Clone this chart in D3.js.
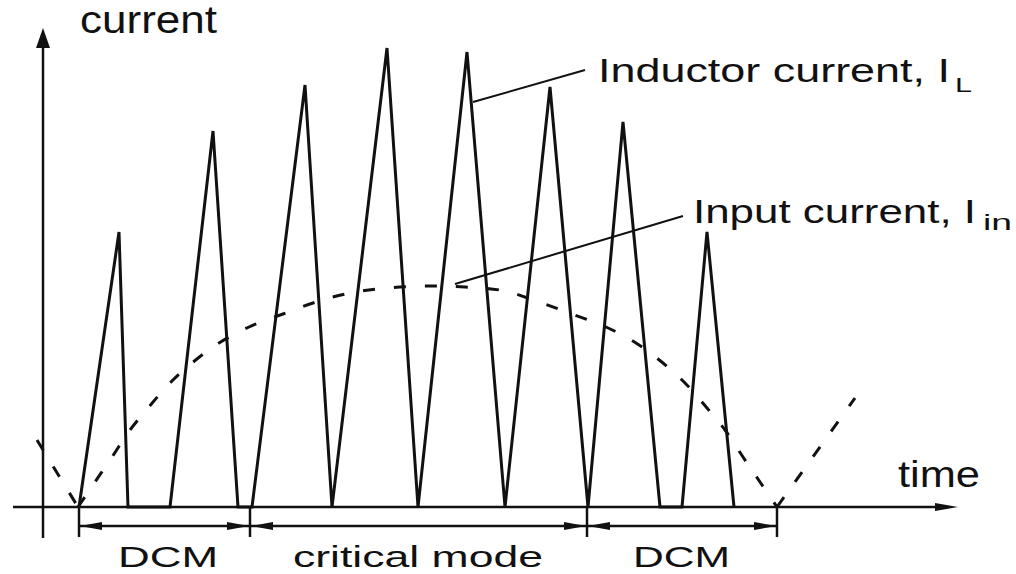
<!DOCTYPE html>
<html><head><meta charset="utf-8">
<script src="https://cdn.jsdelivr.net/npm/d3@7"></script>
<style>html,body{margin:0;padding:0;background:#fff;}svg{display:block;}text{font-family:"Liberation Sans",Arial,sans-serif;fill:#111;}</style>
</head><body>
<script>
// ---- data (time in arbitrary units from origin, current in arbitrary units) ----
const ilTime    = [36, 76, 85, 127, 170, 195, 209, 262, 289, 344, 375, 424, 462, 507, 545, 580, 617, 639, 664, 691];
const ilCurrent = [0, 275, 0, 0, 376, 0, 0, 422, 0, 459, 0, 455, 0, 420, 0, 385, 0, 0, 275, 0];
const inTime    = [-6, 35, 52, 69, 87, 105, 126, 149, 176, 206, 240, 273, 307, 345, 384, 422, 462, 496, 529, 563, 593, 620, 643, 664, 682, 700, 717, 734, 812];
const inCurrent = [67, 0, 25, 50, 77, 99, 123, 144, 164, 180, 193, 205, 214, 219, 221, 220, 216, 205, 193, 180, 164, 144, 123, 99, 77, 50, 25, 0, 109];
const modeBounds = [36, 207, 544, 734];
const modeLabels = ["DCM", "critical mode", "DCM"];
const axisLabels = ["current", "time"];

const W = 1016, H = 574;
const svg = d3.select("body").append("svg").attr("width", W).attr("height", H);

const x = d3.scaleLinear().domain([0, 915]).range([43, 958]);
const y = d3.scaleLinear().domain([0, 479]).range([507, 28]);

const ink = "#111";

// axes
svg.append("line").attr("x1", x(-30)).attr("x2", x(892)).attr("y1", y(0)).attr("y2", y(0))
  .attr("stroke", ink).attr("stroke-width", 2.5);
svg.append("path").attr("d", `M${x(915)},${y(0)} L${x(892)},${y(0)-4} L${x(892)},${y(0)+4} Z`).attr("fill", ink);
svg.append("line").attr("x1", x(0)).attr("x2", x(0)).attr("y1", y(-31)).attr("y2", y(462))
  .attr("stroke", ink).attr("stroke-width", 2.5);
svg.append("path").attr("d", `M${x(0)},${y(479)} L${x(0)-7},${y(459)} L${x(0)+7},${y(459)} Z`).attr("fill", ink);

// input current (dashed)
const inData = inTime.map((t, i) => [t, inCurrent[i]]);
const lineGen = d3.line().x(d => x(d[0])).y(d => y(d[1]));
const seg1 = inData.slice(0, 2), seg2 = inData.slice(1, 28), seg3 = inData.slice(27);
[[seg1, d3.curveLinear], [seg2, d3.curveCatmullRom], [seg3, d3.curveLinear]].forEach(([s, c]) => {
  svg.append("path").attr("d", lineGen.curve(c)(s)).attr("fill", "none").attr("stroke", ink)
    .attr("stroke-width", 3).attr("stroke-dasharray", "12,19");
});

// inductor current
const ilData = ilTime.map((t, i) => [t, ilCurrent[i]]);
svg.append("path").attr("d", d3.line().x(d => x(d[0])).y(d => y(d[1]))(ilData))
  .attr("fill", "none").attr("stroke", ink).attr("stroke-width", 3).attr("stroke-linejoin", "miter");

// dimension line with mode labels
const dimY = 526;
svg.append("line").attr("x1", x(modeBounds[0])).attr("x2", x(modeBounds[3])).attr("y1", dimY).attr("y2", dimY)
  .attr("stroke", ink).attr("stroke-width", 2.5);
modeBounds.forEach(b => {
  svg.append("line").attr("x1", x(b)).attr("x2", x(b)).attr("y1", y(0)).attr("y2", 537)
    .attr("stroke", ink).attr("stroke-width", 2.5);
});
for (let i = 0; i < 3; i++) {
  const a = x(modeBounds[i]) + 1, b = x(modeBounds[i + 1]) - 1;
  svg.append("path").attr("d", `M${a},${dimY} L${a+22},${dimY-4} L${a+22},${dimY+4} Z`).attr("fill", ink);
  svg.append("path").attr("d", `M${b},${dimY} L${b-22},${dimY-4} L${b-22},${dimY+4} Z`).attr("fill", ink);
}
const labelSpans = [[118, 218], [293, 543], [633, 730]];
modeLabels.forEach((m, i) => {
  svg.append("text").attr("x", labelSpans[i][0]).attr("y", 567).attr("font-size", 30)
    .attr("textLength", labelSpans[i][1] - labelSpans[i][0]).attr("lengthAdjust", "spacingAndGlyphs").text(m);
});

// axis labels
svg.append("text").attr("x", 80).attr("y", 33).attr("font-size", 38)
  .attr("textLength", 137).attr("lengthAdjust", "spacingAndGlyphs").text(axisLabels[0]);
svg.append("text").attr("x", 898).attr("y", 487).attr("font-size", 36)
  .attr("textLength", 82).attr("lengthAdjust", "spacingAndGlyphs").text(axisLabels[1]);

// series annotations with leader lines
svg.append("line").attr("x1", 473).attr("y1", 102).attr("x2", 585).attr("y2", 70).attr("stroke", ink).attr("stroke-width", 2);
svg.append("text").attr("x", 598).attr("y", 82).attr("font-size", 34)
  .attr("textLength", 352).attr("lengthAdjust", "spacingAndGlyphs").text("Inductor current, I");
svg.append("text").attr("x", 955).attr("y", 92).attr("font-size", 20)
  .attr("textLength", 17).attr("lengthAdjust", "spacingAndGlyphs").text("L");

svg.append("line").attr("x1", 455).attr("y1", 284).attr("x2", 683).attr("y2", 216).attr("stroke", ink).attr("stroke-width", 2);
svg.append("text").attr("x", 693).attr("y", 223).attr("font-size", 34)
  .attr("textLength", 283).attr("lengthAdjust", "spacingAndGlyphs").text("Input current, I");
svg.append("text").attr("x", 983).attr("y", 230).attr("font-size", 22)
  .attr("textLength", 29).attr("lengthAdjust", "spacingAndGlyphs").text("in");
</script>
</body></html>
